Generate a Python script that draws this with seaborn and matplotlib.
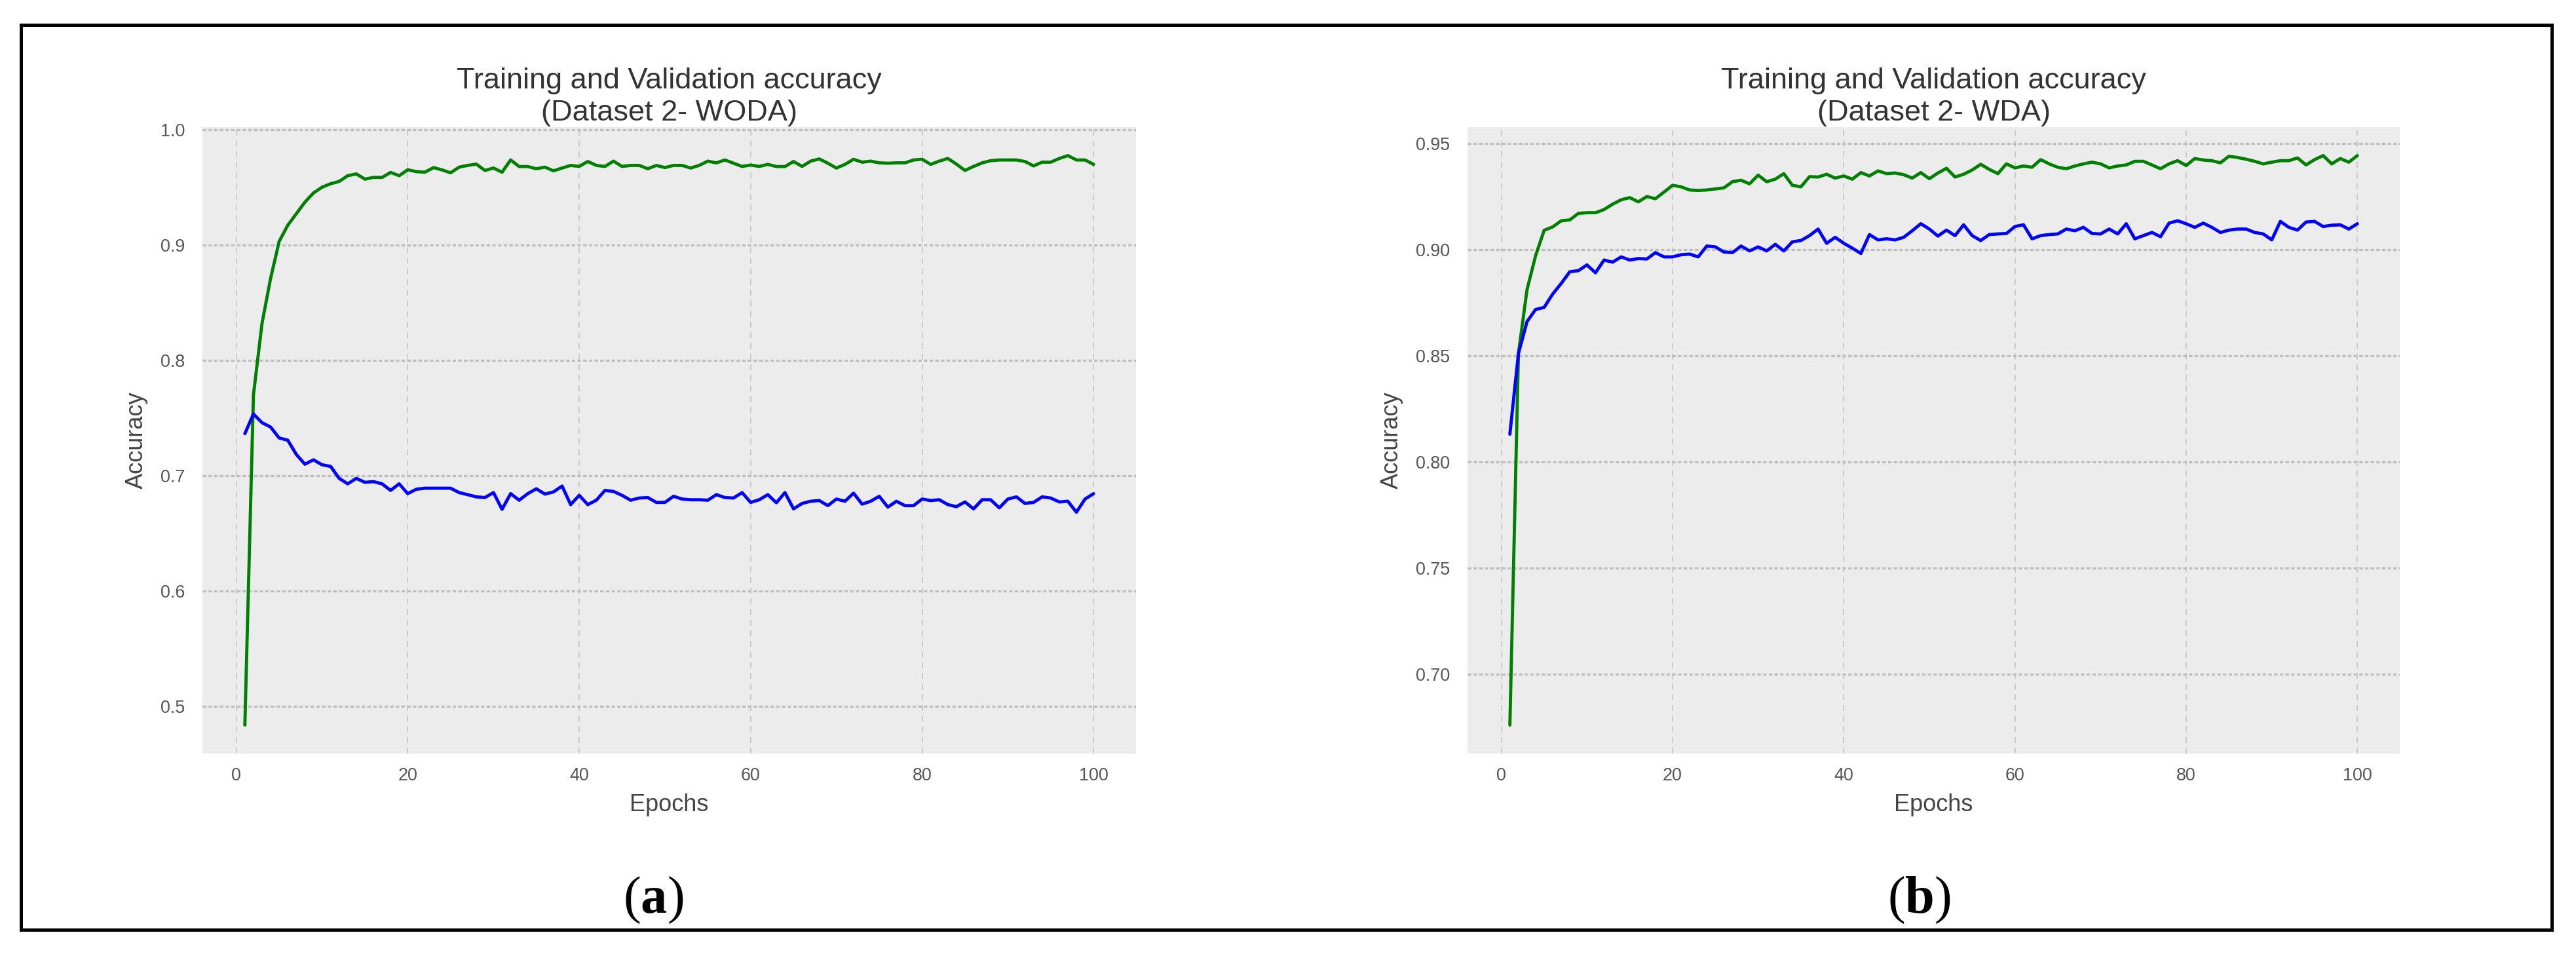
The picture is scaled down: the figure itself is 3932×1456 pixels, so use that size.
import matplotlib
matplotlib.use("Agg")
import matplotlib.pyplot as plt
import seaborn as sns
import pandas as pd
from matplotlib.patches import Rectangle

# ---------------- data ----------------
epochs = list(range(1, 101))

woda_train = [0.484, 0.770, 0.832, 0.871, 0.903, 0.917, 0.927, 0.937, 0.945, 0.950,
              0.953, 0.955, 0.960, 0.9615, 0.957, 0.9585, 0.9585, 0.9628, 0.960, 0.9651,
              0.9635, 0.963, 0.967, 0.965, 0.9625, 0.9674, 0.9689, 0.970, 0.9645, 0.9666,
              0.963, 0.9736, 0.9679, 0.9679, 0.966, 0.9674, 0.9642, 0.9666, 0.9689, 0.968,
              0.9723, 0.9689, 0.968, 0.9726, 0.968, 0.9689, 0.9689, 0.966, 0.9689, 0.967,
              0.9689, 0.9689, 0.9666, 0.9689, 0.9726, 0.9711, 0.9736, 0.9708, 0.968, 0.9692,
              0.968, 0.9698, 0.9679, 0.9679, 0.9723, 0.968, 0.9726, 0.9745, 0.9708, 0.9666,
              0.9698, 0.9742, 0.9717, 0.9726, 0.9711, 0.9708, 0.9711, 0.9711, 0.9736, 0.9742,
              0.9698, 0.9726, 0.9749, 0.970, 0.9645, 0.968, 0.9711, 0.973, 0.9736, 0.9736,
              0.9736, 0.9723, 0.9685, 0.9717, 0.9717, 0.9749, 0.9774, 0.9736, 0.9736, 0.9698]

woda_val = [0.7365, 0.7535, 0.746, 0.7422, 0.7327, 0.7308, 0.7185, 0.710, 0.7138, 0.7095,
            0.7081, 0.6977, 0.693, 0.6977, 0.6943, 0.6949, 0.693, 0.6873, 0.693, 0.6845,
            0.6883, 0.6892, 0.6892, 0.6892, 0.6892, 0.6854, 0.6836, 0.6817, 0.6811, 0.6854,
            0.6709, 0.6845, 0.6788, 0.6845, 0.6887, 0.6841, 0.686, 0.6911, 0.675, 0.683,
            0.675, 0.6788, 0.6873, 0.6864, 0.683, 0.6788, 0.6807, 0.6811, 0.6769, 0.6769,
            0.6822, 0.6798, 0.6792, 0.6792, 0.6788, 0.6836, 0.6811, 0.6807, 0.6854, 0.6769,
            0.6792, 0.6836, 0.6766, 0.6854, 0.6713, 0.676, 0.6779, 0.6785, 0.6741, 0.6798,
            0.6779, 0.6849, 0.6754, 0.6779, 0.6822, 0.6728, 0.6779, 0.6741, 0.6741, 0.6798,
            0.6785, 0.6792, 0.675, 0.6732, 0.6773, 0.6713, 0.6792, 0.6792, 0.6722, 0.6798,
            0.6817, 0.676, 0.6769, 0.6817, 0.6807, 0.6773, 0.6779, 0.6684, 0.6798, 0.6845]

wda_train = [0.676, 0.851, 0.881, 0.897, 0.909, 0.9106, 0.9135, 0.9139, 0.917, 0.9173,
             0.9173, 0.9188, 0.9213, 0.9234, 0.9244, 0.9224, 0.9249, 0.9239, 0.927, 0.9302,
             0.9295, 0.928, 0.9278, 0.928, 0.9285, 0.929, 0.9319, 0.9326, 0.9309, 0.935,
             0.9319, 0.9331, 0.9357, 0.9302, 0.9295, 0.9343, 0.9341, 0.9354, 0.9336, 0.9346,
             0.9331, 0.9362, 0.9346, 0.937, 0.9357, 0.936, 0.9352, 0.9336, 0.9362, 0.9333,
             0.936, 0.9382, 0.9341, 0.9354, 0.9374, 0.9401, 0.9377, 0.9357, 0.9403, 0.9384,
             0.9393, 0.9387, 0.9423, 0.9403, 0.9387, 0.938, 0.9393, 0.9403, 0.9411, 0.9403,
             0.9384, 0.9393, 0.9398, 0.9415, 0.9415, 0.9398, 0.938, 0.9403, 0.9418, 0.9395,
             0.9428, 0.9421, 0.9418, 0.9408, 0.9439, 0.9433, 0.9425, 0.9415, 0.9403, 0.9411,
             0.9418, 0.9418, 0.9431, 0.9398, 0.9423, 0.9442, 0.9403, 0.9428, 0.9411, 0.9442]

wda_val = [0.813, 0.851, 0.866, 0.8717, 0.8727, 0.879, 0.884, 0.8895, 0.890, 0.8927,
           0.889, 0.895, 0.894, 0.8965, 0.895, 0.8957, 0.8955, 0.8985, 0.8965, 0.8965,
           0.8975, 0.8978, 0.8965, 0.9016, 0.9012, 0.8988, 0.8985, 0.9016, 0.8993, 0.9012,
           0.8993, 0.9024, 0.8993, 0.9036, 0.9042, 0.9065, 0.9096, 0.9029, 0.9057, 0.9029,
           0.9006, 0.8981, 0.907, 0.9045, 0.905, 0.9045, 0.9057, 0.9088, 0.9121, 0.9096,
           0.9063, 0.9091, 0.9065, 0.9116, 0.9065, 0.9042, 0.907, 0.9073, 0.9075, 0.9108,
           0.9116, 0.905, 0.9065, 0.907, 0.9073, 0.9096, 0.9088, 0.9104, 0.9075, 0.9073,
           0.9096, 0.9073, 0.9121, 0.905, 0.9065, 0.908, 0.906, 0.9124, 0.9135, 0.9121,
           0.9104, 0.9124, 0.9104, 0.908, 0.9091, 0.9096, 0.9096, 0.908, 0.9073, 0.9045,
           0.9132, 0.9104, 0.9091, 0.9129, 0.9132, 0.9108, 0.9114, 0.9116, 0.9096, 0.9121]

titles = ["Training and Validation accuracy\n(Dataset 2- WODA)",
          "Training and Validation accuracy\n(Dataset 2- WDA)"]
panel_letters = ["a", "b"]
x_label = "Epochs"
y_label = "Accuracy"
x_ticks = [0, 20, 40, 60, 80, 100]

# ---------------- style ----------------
sns.set_theme(style="darkgrid")
plt.rcParams["font.family"] = ["Liberation Sans", "DejaVu Sans"]
plt.rcParams["mathtext.fontset"] = "custom"
plt.rcParams["mathtext.rm"] = "Liberation Serif"
plt.rcParams["mathtext.bf"] = "Liberation Serif:bold"

W, H = 3932, 1456
fig = plt.figure(figsize=(W / 100, H / 100), dpi=100, facecolor="white")

axes_px = [(309, 194, 1734, 1150), (2240, 194, 3663, 1150)]
label_cx = [997, 2929]

panels = [(woda_train, woda_val), (wda_train, wda_val)]

for i, ((tr, va), (x0, y0, x1, y1)) in enumerate(zip(panels, axes_px)):
    ax = fig.add_axes([x0 / W, 1 - y1 / H, (x1 - x0) / W, (y1 - y0) / H])
    ax.set_facecolor("#ECECEC")
    df = pd.DataFrame({
        "epoch": epochs + epochs,
        "acc": tr + va,
        "series": ["train"] * len(tr) + ["val"] * len(va),
    })
    sns.lineplot(data=df, x="epoch", y="acc", hue="series",
                 palette={"train": "#008000", "val": "#0000FF"},
                 linewidth=3.5, legend=False, ax=ax, errorbar=None)
    ax.set_xticks(x_ticks)
    ax.grid(False)
    ax.grid(True, axis="x", color="#c8c8c8", linestyle=(0, (5, 4)), linewidth=1.3)
    ax.grid(True, axis="y", color="#bebebe", linestyle=(0, (1.6, 1.0)), linewidth=2.4)
    for s in ax.spines.values():
        s.set_visible(False)
    ax.tick_params(axis="both", length=0, labelsize=19.4, colors="#555555")
    ax.tick_params(axis="x", pad=15)
    ax.tick_params(axis="y", pad=19)
    ax.set_title(titles[i], fontsize=32.5, pad=7, linespacing=1.25, color="#333333")
    ax.set_xlabel(x_label, fontsize=26, labelpad=10, color="#444444")
    ax.set_ylabel(y_label, fontsize=26, labelpad=14, color="#444444")
    fig.text(label_cx[i] / W, 1 - 1393 / H, "($\\mathbf{%s}$)" % panel_letters[i],
             ha="center", va="baseline", fontsize=58, family="Liberation Serif",
             color="black")

fig.patches.append(Rectangle((32 / W, 1 - 1419 / H), (3895 - 32) / W, (1419 - 38) / H,
                             transform=fig.transFigure, fill=False, lw=3.6,
                             edgecolor="black", figure=fig))

fig.savefig("out.png", dpi=100, facecolor="white")
